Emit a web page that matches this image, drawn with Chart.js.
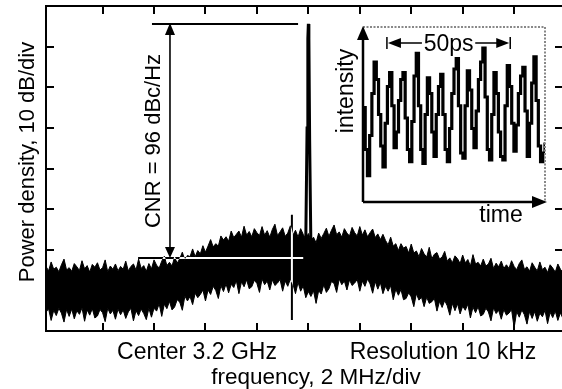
<!DOCTYPE html>
<html>
<head>
<meta charset="utf-8">
<script src="https://cdn.jsdelivr.net/npm/chart.js@4.4.0/dist/chart.umd.min.js"></script>
<style>
  html, body { margin: 0; padding: 0; background: #fff; overflow: hidden; width: 562px; height: 389px; }
  #main { position: absolute; left: 0; top: 0; }
  #inset { position: absolute; left: 330px; top: 18px; }
</style>
</head>
<body>
<canvas id="main" width="566" height="389"></canvas>
<canvas id="inset" width="232" height="212"></canvas>
<script>
// spectrum: x in divisions from centre (2 MHz/div), y in dB (10 dB/div)
const freqStart = -5.1;
const freqStep = 0.05;

// upper edge of the noise trace
const noiseTop = [
  -64.1, -65.2, -63.0, -64.8, -64.3, -65.4, -63.7, -62.3, -65.0, -64.4,
  -65.3, -63.4, -64.2, -65.1, -62.7, -64.7, -63.9, -65.5, -63.6, -64.3,
  -63.2, -65.0, -64.4, -62.5, -65.4, -64.0, -64.8, -63.5, -65.2, -64.1,
  -64.8, -62.8, -65.2, -64.1, -63.5, -65.0, -62.3, -64.6, -63.9, -65.3,
  -63.4, -64.7, -62.5, -63.8, -64.5, -62.8, -61.6, -63.9, -63.1, -64.0,
  -61.8, -63.3, -62.2, -60.6, -62.6, -61.4, -61.7, -59.8, -61.7, -60.2,
  -61.0, -59.0, -60.6, -59.1, -57.5, -59.3, -58.5, -59.1, -56.6, -57.6,
  -56.8, -57.9, -55.4, -57.0, -56.2, -55.4, -56.9, -54.2, -56.4, -55.5,
  -56.8, -54.8, -55.8, -56.5, -54.3, -56.4, -55.3, -56.9, -55.0, -53.7,
  -56.5, -55.6, -54.6, -56.7, -55.9, -54.1, -56.4, -55.2, -56.9, -54.8,
  -56.2, -57.4, -56.0, -57.7, -56.9, -58.3, -55.9, -57.2, -56.0, -54.7,
  -56.7, -55.2, -53.9, -56.3, -55.6, -56.9, -54.8, -55.9, -56.6, -54.5,
  -55.8, -56.6, -54.3, -56.4, -55.1, -56.8, -55.8, -54.9, -57.0, -56.1,
  -57.5, -56.2, -57.7, -58.8, -56.9, -59.1, -58.5, -60.2, -58.5, -59.6,
  -59.2, -60.8, -58.6, -60.8, -60.3, -61.7, -59.7, -61.0, -61.8, -59.4,
  -62.2, -61.1, -60.7, -62.3, -61.8, -60.4, -62.8, -62.0, -63.2, -61.5,
  -62.2, -63.4, -61.3, -63.2, -62.4, -64.0, -61.2, -63.5, -63.1, -64.0,
  -62.3, -64.0, -63.5, -62.1, -64.6, -63.3, -64.2, -62.8, -64.6, -63.7,
  -64.6, -62.7, -64.1, -64.9, -63.4, -62.5, -64.8, -64.2, -65.3, -63.2,
  -64.3, -65.2, -63.0, -64.9, -64.3, -65.6, -63.7, -64.5, -65.5, -63.5,
  -64.8, -65.6, -64.2
];

// lower edge of the noise trace
const noiseBottom = [
  -75.4, -74.5, -77.4, -74.9, -76.2, -74.4, -75.6, -77.8, -74.7, -76.4,
  -74.6, -77.0, -75.0, -75.9, -74.3, -77.6, -74.8, -76.1, -74.5, -76.8,
  -76.3, -74.7, -75.5, -77.7, -74.4, -75.8, -74.9, -77.1, -74.6, -76.0,
  -74.8, -76.9, -75.3, -74.4, -77.5, -75.0, -76.2, -74.6, -75.7, -77.2,
  -74.4, -76.6, -74.4, -75.1, -73.3, -76.4, -73.4, -74.5, -72.7, -74.8,
  -74.1, -72.3, -72.9, -74.9, -71.4, -72.6, -71.5, -73.5, -70.7, -71.8,
  -71.0, -69.9, -72.6, -69.9, -71.0, -69.0, -70.0, -72.0, -68.8, -70.3,
  -68.4, -70.6, -68.5, -69.3, -67.6, -70.8, -67.9, -69.1, -67.4, -69.6,
  -69.1, -67.5, -68.3, -70.5, -67.2, -68.6, -67.7, -69.9, -67.4, -68.8,
  -68.2, -67.3, -70.2, -67.7, -69.0, -67.2, -68.4, -70.8, -68.0, -70.2,
  -68.9, -71.8, -70.3, -71.5, -70.1, -73.2, -70.1, -70.9, -68.6, -70.5,
  -69.6, -67.8, -68.3, -70.5, -67.2, -68.6, -67.7, -69.9, -67.4, -68.8,
  -68.2, -67.3, -70.2, -67.7, -69.0, -67.2, -68.4, -70.7, -67.8, -69.7,
  -68.1, -70.8, -69.0, -70.2, -68.8, -72.3, -69.7, -71.2, -69.8, -72.3,
  -72.0, -70.6, -71.6, -74.0, -70.8, -72.4, -71.7, -74.0, -71.7, -73.2,
  -72.8, -72.0, -75.1, -72.7, -74.2, -72.5, -73.8, -76.1, -73.2, -75.0,
  -73.3, -75.8, -73.9, -74.9, -73.4, -76.8, -74.1, -75.5, -74.0, -76.3,
  -75.9, -74.4, -75.3, -77.5, -74.3, -75.7, -74.9, -77.1, -74.7, -76.1,
  -75.6, -74.7, -79.2, -75.2, -76.6, -74.8, -76.0, -78.3, -75.2, -76.9,
  -75.2, -77.6, -75.6, -76.5, -74.9, -78.2, -75.4, -76.7, -75.1, -77.4,
  -75.5, -77.0, -75.4
];

// carrier line
const carrierFreq = [-0.05, -0.025, -0.01, 0, 0.01, 0.025, 0.05];
const carrierLevel = [-58, -30, -8, -4.4, -8, -33, -60];

const xTicks = [-4, -3, -2, -1, 0, 1, 2, 3, 4];
const yTicks = [-70, -60, -50, -40, -30, -20, -10];

// CNR annotation (data units)
const carrierRef = -4.4;
const floorRef = -62.0;
const cnrArrowAt = -2.69;
const carrierLineSpan = [-3.04, -0.2];
const floorLineSpan = [-3.31, -0.1];
const markerAt = -0.32;
const markerSpan = [-51.4, -77.3];

// inset pulse train, samples 0.9 ps apart, intensity in a.u.
const sampleStep = 0.9;
const pulseIntensity = [
  0.54, 0.30, 0.15, 0.38, 0.62, 0.80, 0.70, 0.50, 0.32, 0.20,
  0.45, 0.66, 0.74, 0.55, 0.31, 0.40, 0.58, 0.70, 0.74, 0.48,
  0.30, 0.23, 0.46, 0.72, 0.85, 0.55, 0.30, 0.22, 0.50, 0.71,
  0.62, 0.40, 0.26, 0.50, 0.66, 0.73, 0.50, 0.30, 0.23, 0.42,
  0.62, 0.76, 0.82, 0.55, 0.28, 0.25, 0.55, 0.75, 0.64, 0.42,
  0.31, 0.52, 0.70, 0.80, 0.88, 0.60, 0.30, 0.24, 0.50, 0.74,
  0.62, 0.40, 0.26, 0.24, 0.55, 0.78, 0.66, 0.45, 0.29, 0.44,
  0.62, 0.72, 0.77, 0.52, 0.26, 0.45, 0.68, 0.83, 0.58, 0.32,
  0.23, 0.28, 0.34
];
const markStart = 9.7; // ps
const markWidth = 50;  // ps

const FONT = '"Liberation Sans", Arial, Helvetica, sans-serif';

const freqDiv = noiseTop.map((_, i) => +(freqStart + i * freqStep).toFixed(3));
const toPts = (xs, ys) => ys.map((v, i) => ({ x: xs[i], y: v }));

function tri(ctx, a, b, c) {
  ctx.beginPath();
  ctx.moveTo(a[0], a[1]); ctx.lineTo(b[0], b[1]); ctx.lineTo(c[0], c[1]);
  ctx.closePath();
  ctx.fill();
}

const spectrumDecor = {
  id: 'spectrumDecor',
  beforeDraw(chart) {
    const ctx = chart.ctx;
    ctx.save();
    ctx.fillStyle = '#fff';
    ctx.fillRect(0, 0, chart.width, chart.height);
    ctx.restore();
  },
  afterDatasetsDraw(chart) {
    const { ctx, scales: { x, y } } = chart;
    ctx.save();
    // floor reference + marker: inverted over the noise band
    ctx.globalCompositeOperation = 'difference';
    ctx.strokeStyle = '#fff';
    ctx.lineWidth = 2;
    ctx.beginPath();
    ctx.moveTo(x.getPixelForValue(floorLineSpan[0]), y.getPixelForValue(floorRef));
    ctx.lineTo(x.getPixelForValue(floorLineSpan[1]), y.getPixelForValue(floorRef));
    ctx.moveTo(x.getPixelForValue(markerAt), y.getPixelForValue(markerSpan[0]));
    ctx.lineTo(x.getPixelForValue(markerAt), y.getPixelForValue(markerSpan[1]));
    ctx.stroke();
    ctx.restore();
  },
  afterDraw(chart) {
    const { ctx, chartArea: a, scales: { x, y } } = chart;
    ctx.save();
    ctx.strokeStyle = '#000';
    ctx.fillStyle = '#000';

    // carrier reference line
    ctx.lineWidth = 2;
    const yc = y.getPixelForValue(carrierRef);
    const yf = y.getPixelForValue(floorRef);
    ctx.beginPath();
    ctx.moveTo(x.getPixelForValue(carrierLineSpan[0]), yc);
    ctx.lineTo(x.getPixelForValue(carrierLineSpan[1]), yc);
    ctx.stroke();

    // double arrow
    const xa = x.getPixelForValue(cnrArrowAt);
    ctx.lineWidth = 1.6;
    ctx.beginPath();
    ctx.moveTo(xa, yc + 8); ctx.lineTo(xa, yf - 8);
    ctx.stroke();
    tri(ctx, [xa, yc - 1], [xa - 5, yc + 11], [xa + 5, yc + 11]);
    tri(ctx, [xa, yf], [xa - 5, yf - 11], [xa + 5, yf - 11]);

    // frame
    ctx.lineWidth = 2;
    ctx.strokeRect(a.left, a.top, a.right - a.left, a.bottom - a.top);

    // inward ticks
    ctx.beginPath();
    xTicks.forEach(v => {
      const px = Math.round(x.getPixelForValue(v));
      ctx.moveTo(px, a.bottom); ctx.lineTo(px, a.bottom - 8);
      ctx.moveTo(px, a.top); ctx.lineTo(px, a.top + 8);
    });
    yTicks.forEach(v => {
      const py = Math.round(y.getPixelForValue(v));
      ctx.moveTo(a.left, py); ctx.lineTo(a.left + 8, py);
      ctx.moveTo(a.right, py); ctx.lineTo(a.right - 8, py);
    });
    ctx.stroke();

    // texts
    ctx.textBaseline = 'alphabetic';
    ctx.textAlign = 'center';
    ctx.font = '23px ' + FONT;
    ctx.fillText('Center 3.2 GHz', 197, 359);
    ctx.fillText('Resolution 10 kHz', 443, 359);
    ctx.font = '22.5px ' + FONT;
    ctx.fillText('frequency, 2 MHz/div', 316, 384);

    ctx.save();
    ctx.translate(34, 162);
    ctx.rotate(-Math.PI / 2);
    ctx.font = '22px ' + FONT;
    ctx.fillText('Power density, 10 dB/div', 0, 0);
    ctx.restore();

    ctx.save();
    ctx.translate(160, 141);
    ctx.rotate(-Math.PI / 2);
    ctx.font = '22px ' + FONT;
    ctx.fillText('CNR = 96 dBc/Hz', 0, 0);
    ctx.restore();

    ctx.restore();
  }
};

new Chart(document.getElementById('main'), {
  type: 'line',
  data: {
    datasets: [
      { data: toPts(freqDiv, noiseBottom), borderColor: '#000', borderWidth: 1, pointRadius: 0, fill: false },
      { data: toPts(freqDiv, noiseTop), borderColor: '#000', borderWidth: 1, pointRadius: 0, fill: '-1', backgroundColor: '#000' },
      { data: toPts(carrierFreq, carrierLevel), borderColor: '#000', borderWidth: 3, pointRadius: 0, fill: false }
    ]
  },
  options: {
    responsive: false,
    animation: false,
    devicePixelRatio: 1,
    layout: { padding: { left: 46, top: 6, right: 3, bottom: 58 } },
    plugins: { legend: { display: false }, tooltip: { enabled: false } },
    scales: {
      x: { type: 'linear', display: false, min: -5.1, max: 4.95 },
      y: { type: 'linear', display: false, min: -80, max: 0 }
    }
  },
  plugins: [spectrumDecor]
});

// inset
const insetDecor = {
  id: 'insetDecor',
  afterDraw(chart) {
    const { ctx, chartArea: a, scales: { x } } = chart;
    ctx.save();
    // dotted frame
    ctx.strokeStyle = '#888';
    ctx.lineWidth = 2;
    ctx.setLineDash([2, 1.5]);
    ctx.beginPath();
    ctx.moveTo(a.left, a.top); ctx.lineTo(a.right, a.top); ctx.lineTo(a.right, a.bottom);
    ctx.stroke();
    ctx.setLineDash([]);

    // axis arrows
    ctx.strokeStyle = '#000';
    ctx.fillStyle = '#000';
    ctx.lineWidth = 2.5;
    ctx.beginPath();
    ctx.moveTo(a.left, a.bottom); ctx.lineTo(a.left, a.top + 10);
    ctx.moveTo(a.left, a.bottom); ctx.lineTo(a.right - 10, a.bottom);
    ctx.stroke();
    tri(ctx, [a.left, a.top - 1], [a.left - 6, a.top + 13], [a.left + 6, a.top + 13]);
    tri(ctx, [a.right + 2, a.bottom], [a.right - 13, a.bottom - 6], [a.right - 13, a.bottom + 6]);

    // 50 ps marker
    const x0 = x.getPixelForValue(markStart);
    const x1 = x.getPixelForValue(markStart + markWidth);
    const ym = 25;
    ctx.lineWidth = 1.5;
    ctx.beginPath();
    ctx.moveTo(x0, ym - 6); ctx.lineTo(x0, ym + 6);
    ctx.moveTo(x1, ym - 6); ctx.lineTo(x1, ym + 6);
    ctx.moveTo(x0 + 12, ym); ctx.lineTo(x0 + 35, ym);
    ctx.moveTo(x1 - 12, ym); ctx.lineTo(x1 - 35, ym);
    ctx.stroke();
    tri(ctx, [x0 + 1, ym], [x0 + 14, ym - 5], [x0 + 14, ym + 5]);
    tri(ctx, [x1 - 1, ym], [x1 - 14, ym - 5], [x1 - 14, ym + 5]);

    ctx.textAlign = 'center';
    ctx.textBaseline = 'alphabetic';
    ctx.font = '23px ' + FONT;
    ctx.fillText('50ps', (x0 + x1) / 2, 33);
    ctx.fillText('time', 171, 204);

    ctx.save();
    ctx.translate(23, 73);
    ctx.rotate(-Math.PI / 2);
    ctx.fillText('intensity', 0, 0);
    ctx.restore();

    ctx.restore();
  }
};

const pulseTime = pulseIntensity.map((_, i) => +(i * sampleStep).toFixed(2));

new Chart(document.getElementById('inset'), {
  type: 'line',
  data: {
    datasets: [
      { data: toPts(pulseTime, pulseIntensity), borderColor: '#000', borderWidth: 3.2, pointRadius: 0, stepped: true, fill: false },
      { data: toPts(pulseTime, pulseIntensity), borderColor: '#aaa', borderWidth: 0.8, pointRadius: 0, stepped: true, fill: false }
    ]
  },
  options: {
    responsive: false,
    animation: false,
    devicePixelRatio: 1,
    layout: { padding: { left: 33, top: 9, right: 17, bottom: 28 } },
    plugins: { legend: { display: false }, tooltip: { enabled: false } },
    scales: {
      x: { type: 'linear', display: false, min: 0, max: (pulseIntensity.length - 1) * sampleStep },
      y: { type: 'linear', display: false, min: 0, max: 1 }
    }
  },
  plugins: [insetDecor]
});
</script>
</body>
</html>
